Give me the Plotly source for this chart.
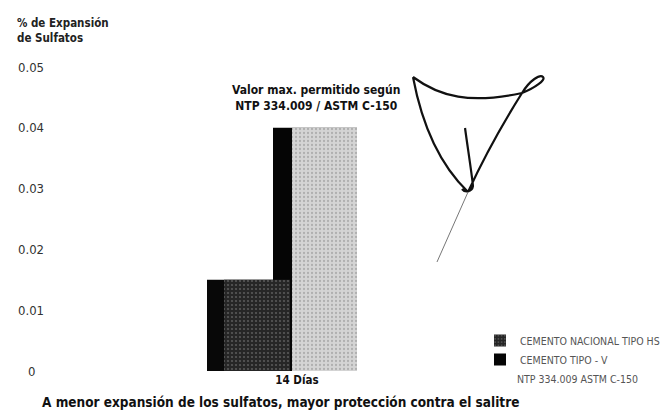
import plotly.graph_objects as go

W, H = 669, 416

# ---- data ----
categories = ["14 Días"]
hs_values = [0.015]        # CEMENTO NACIONAL TIPO HS
tipo_v_values = [0.04]     # CEMENTO TIPO - V (NTP 334.009 ASTM C-150)
y_tickvals = [0, 0.01, 0.02, 0.03, 0.04, 0.05]
y_ticktext = ["0", "0.01", "0.02", "0.03", "0.04", "0.05"]

hs_name = "CEMENTO NACIONAL TIPO HS"
v_name = "CEMENTO TIPO - V"
v_note = "NTP 334.009 ASTM C-150"
limit_text = "Valor max. permitido según<br>NTP 334.009 / ASTM C-150"
y_title = "% de Expansión<br>de Sulfatos"
caption = "A menor expansión de los sulfatos, mayor protección contra el salitre"

FONT = "DejaVu Sans Condensed"


def fnt(size, color, bold=False):
    return dict(family=FONT, size=size, color=color,
                weight="bold" if bold else "normal")


def px(x, y):
    """pixel position -> paper coordinates (figure has no margins)"""
    return x / W, 1 - y / H


def path(segments):
    out = []
    for cmd, pts in segments:
        coords = " ".join("%.4f,%.4f" % px(x, y) for x, y in pts)
        out.append(cmd + " " + coords)
    return " ".join(out)


fig = go.Figure()

# pseudo-3D bars: a dark side face, then the front face laid over it
fig.add_trace(go.Bar(
    x=categories, y=tipo_v_values, name=v_name,
    offset=-0.096, width=0.336,
    marker=dict(color="#050505", line=dict(width=0)),
    legendrank=2, showlegend=True,
))
fig.add_trace(go.Bar(
    x=categories, y=tipo_v_values, name=v_name,
    offset=-0.02, width=0.26,
    marker=dict(color="#cfcfcf", line=dict(width=0),
                pattern=dict(shape=".", bgcolor="#d4d4d4", fgcolor="#8a8a8a",
                             size=4, solidity=0.25, fillmode="overlay")),
    showlegend=False,
))
fig.add_trace(go.Bar(
    x=categories, y=hs_values, name=hs_name,
    offset=-0.36, width=0.332,
    marker=dict(color="#080808", line=dict(width=0)),
    showlegend=False,
))
fig.add_trace(go.Bar(
    x=categories, y=hs_values, name=hs_name,
    offset=-0.292, width=0.264,
    marker=dict(color="#2a2a2a", line=dict(width=0),
                pattern=dict(shape=".", bgcolor="#262626", fgcolor="#8a8a8a",
                             size=4, solidity=0.22, fillmode="overlay")),
    legendrank=1, showlegend=True,
))

annotations = []
# y tick labels, centred under each other
for v, t in zip(y_tickvals, y_ticktext):
    annotations.append(dict(
        x=31 / W, xref="paper", y=v, yref="y", text=t, showarrow=False,
        xanchor="center", yanchor="middle", font=fnt(13, "#333333"),
    ))
annotations += [
    dict(x=15 / W, y=px(0, 14)[1], xref="paper", yref="paper", text=y_title,
         showarrow=False, xanchor="left", yanchor="top", align="left",
         font=fnt(11.5, "#222222", True)),
    dict(x=316 / W, y=px(0, 98)[1], xref="paper", yref="paper", text=limit_text,
         showarrow=False, xanchor="center", yanchor="middle", align="center",
         font=fnt(12, "#111111", True)),
    dict(x=40 / W, y=px(0, 402)[1], xref="paper", yref="paper", text=caption,
         showarrow=False, xanchor="left", yanchor="middle",
         font=fnt(13.5, "#111111", True)),
    dict(x=515 / W, y=px(0, 379)[1], xref="paper", yref="paper", text=v_note,
         showarrow=False, xanchor="left", yanchor="middle",
         font=fnt(10.5, "#555555")),
]

# hand-written signature stroke
sig_main = path([
    ("M", [(413, 77)]), ("C", [(422, 125), (440, 165), (468, 192)]),
    ("M", [(413, 77)]), ("C", [(440, 97), (470, 104), (522, 93)]),
    ("C", [(535, 88), (546, 80), (543, 77)]),
    ("C", [(540, 74), (530, 80), (522, 93)]),
    ("C", [(505, 120), (485, 155), (468, 192)]),
    ("M", [(465, 128)]), ("C", [(468, 150), (472, 175), (473, 186)]),
    ("C", [(472, 192), (465, 193), (462, 189)]),
])
sig_tail = path([("M", [(468, 192)]), ("L", [(437, 262)])])
shapes = [
    dict(type="path", path=sig_main, xref="paper", yref="paper",
         line=dict(color="#111111", width=2.2)),
    dict(type="path", path=sig_tail, xref="paper", yref="paper",
         line=dict(color="#777777", width=1)),
]

fig.update_layout(
    width=W, height=H, autosize=False,
    margin=dict(l=0, r=0, t=0, b=0),
    paper_bgcolor="white", plot_bgcolor="white",
    barmode="overlay",
    xaxis=dict(domain=[50 / W, 600 / W], range=[-0.988, 1.212],
               showgrid=False, zeroline=False, showline=False, ticks="",
               tickfont=fnt(11.5, "#111111", True)),
    yaxis=dict(domain=[1 - 371 / H, 1 - 67 / H], range=[0, 0.05],
               showgrid=False, zeroline=False, showline=False,
               showticklabels=False, ticks=""),
    legend=dict(x=480 / W, y=px(0, 326)[1], xanchor="left", yanchor="top",
                bgcolor="rgba(0,0,0,0)", traceorder="normal",
                font=fnt(10.5, "#555555"),
                itemwidth=30, tracegroupgap=0),
    annotations=annotations,
    shapes=shapes,
)

fig.write_html("out.html", config={"displayModeBar": False})
